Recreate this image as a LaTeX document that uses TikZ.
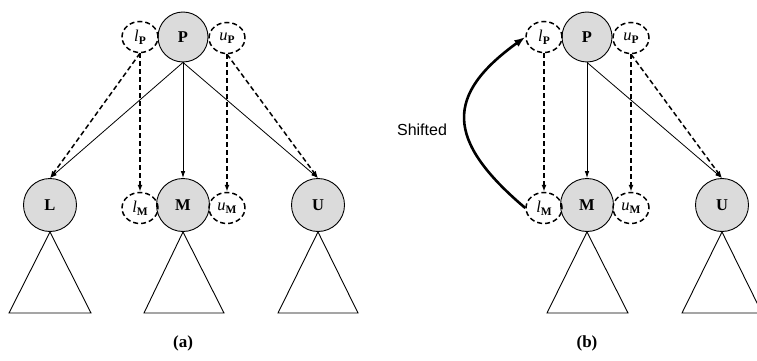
\documentclass[tikz,border=0pt]{standalone}
\usepackage{fontspec}
\setmainfont{Liberation Serif}
\newfontfamily\labelsans{Liberation Sans}
\usetikzlibrary{arrows.meta,shapes.geometric}
\newcommand{\vsub}[2]{\textit{#1}\raisebox{-0.4ex}{\fontsize{11.5}{13}\selectfont\textbf{#2}}}
\begin{document}
\begin{tikzpicture}[x=1pt,y=-1pt,
  key/.style={circle,draw,line width=0.9pt,fill=gray!28,minimum size=50pt,inner sep=0pt,font=\fontsize{16.5}{18}\selectfont\bfseries},
  bigkey/.style={key,minimum size=53pt},
  bound/.style={ellipse,draw,dash pattern=on 5pt off 3pt,line width=1.5pt,minimum width=36pt,minimum height=31pt,inner sep=0pt,font=\fontsize{16.5}{18}\selectfont},
  ptr/.style={line width=0.8pt,-{Latex[length=7pt,width=4.5pt]}},
  dptr/.style={line width=1.5pt,dash pattern=on 5pt off 3pt,-{Latex[length=7pt,width=5pt]}},
  tri/.style={line width=0.9pt},
  captext/.style={font=\fontsize{17}{19}\selectfont\bfseries}]
\useasboundingbox (0,0) rectangle (757,361);
\clip (0,0) rectangle (757,361);
% ---------- panel (a) ----------
\node[key] (aP) at (183,37) {P};
\node[bound] (alP) at (140,37) {\vsub{l}{P}};
\node[bound] (auP) at (227,38) {\vsub{u}{P}};
\node[bigkey] (aL) at (50,205) {L};
\node[bigkey] (aM) at (183,205) {M};
\node[bigkey] (aU) at (318,205) {U};
\node[bound] (alM) at (140,208) {\vsub{l}{M}};
\node[bound] (auM) at (227,208) {\vsub{u}{M}};
\coordinate (aLb1) at (9,313); \coordinate (aLb2) at (91,313);
\coordinate (aMb1) at (144,313); \coordinate (aMb2) at (224,313);
\coordinate (aUb1) at (278,313); \coordinate (aUb2) at (358,313);
\draw[tri] (aL.south) -- (aLb1) -- (aLb2) -- cycle;
\draw[tri] (aM.south) -- (aMb1) -- (aMb2) -- cycle;
\draw[tri] (aU.south) -- (aUb1) -- (aUb2) -- cycle;
\draw[ptr] (aP.south) -- (aL.north);
\draw[ptr] (aP.south) -- (aM.north);
\draw[ptr] (aP.south) -- (aU.north);
\draw[dptr] (alP.south) -- (aL.north);
\draw[dptr] (alP.south) -- (alM.north);
\draw[dptr] (auP.south) -- (auM.north);
\draw[dptr] (auP.south) -- (aU.north);
\node[captext] (capa) at (183,343) {(a)};
% ---------- panel (b) ----------
\node[key] (bP) at (587,37) {P};
\node[bound] (blP) at (544,37) {\vsub{l}{P}};
\node[bound] (buP) at (631,38) {\vsub{u}{P}};
\node[bigkey] (bM) at (587,205) {M};
\node[bigkey] (bU) at (722,205) {U};
\node[bound] (blM) at (544,208) {\vsub{l}{M}};
\node[bound] (buM) at (631,208) {\vsub{u}{M}};
\coordinate (bMb1) at (547,313); \coordinate (bMb2) at (628,313);
\coordinate (bUb1) at (682,313); \coordinate (bUb2) at (762,313);
\draw[tri] (bM.south) -- (bMb1) -- (bMb2) -- cycle;
\draw[tri] (bU.south) -- (bUb1) -- (bUb2) -- cycle;
\draw[ptr] (bP.south) -- (bM.north);
\draw[ptr] (bP.south) -- (bU.north);
\draw[dptr] (blP.south) -- (blM.north);
\draw[dptr] (buP.south) -- (buM.north);
\draw[dptr] (buP.south) -- (bU.north);
\draw[line width=2.6pt,-{Latex[length=11pt,width=8pt]}] (blM.west) .. controls (445,140) and (445,95) .. (blP.west);
\node[font=\labelsans\fontsize{16}{18}\selectfont] (shift) at (422,130) {Shifted};
\node[captext] (capb) at (587,343) {(b)};
\end{tikzpicture}
\end{document}
